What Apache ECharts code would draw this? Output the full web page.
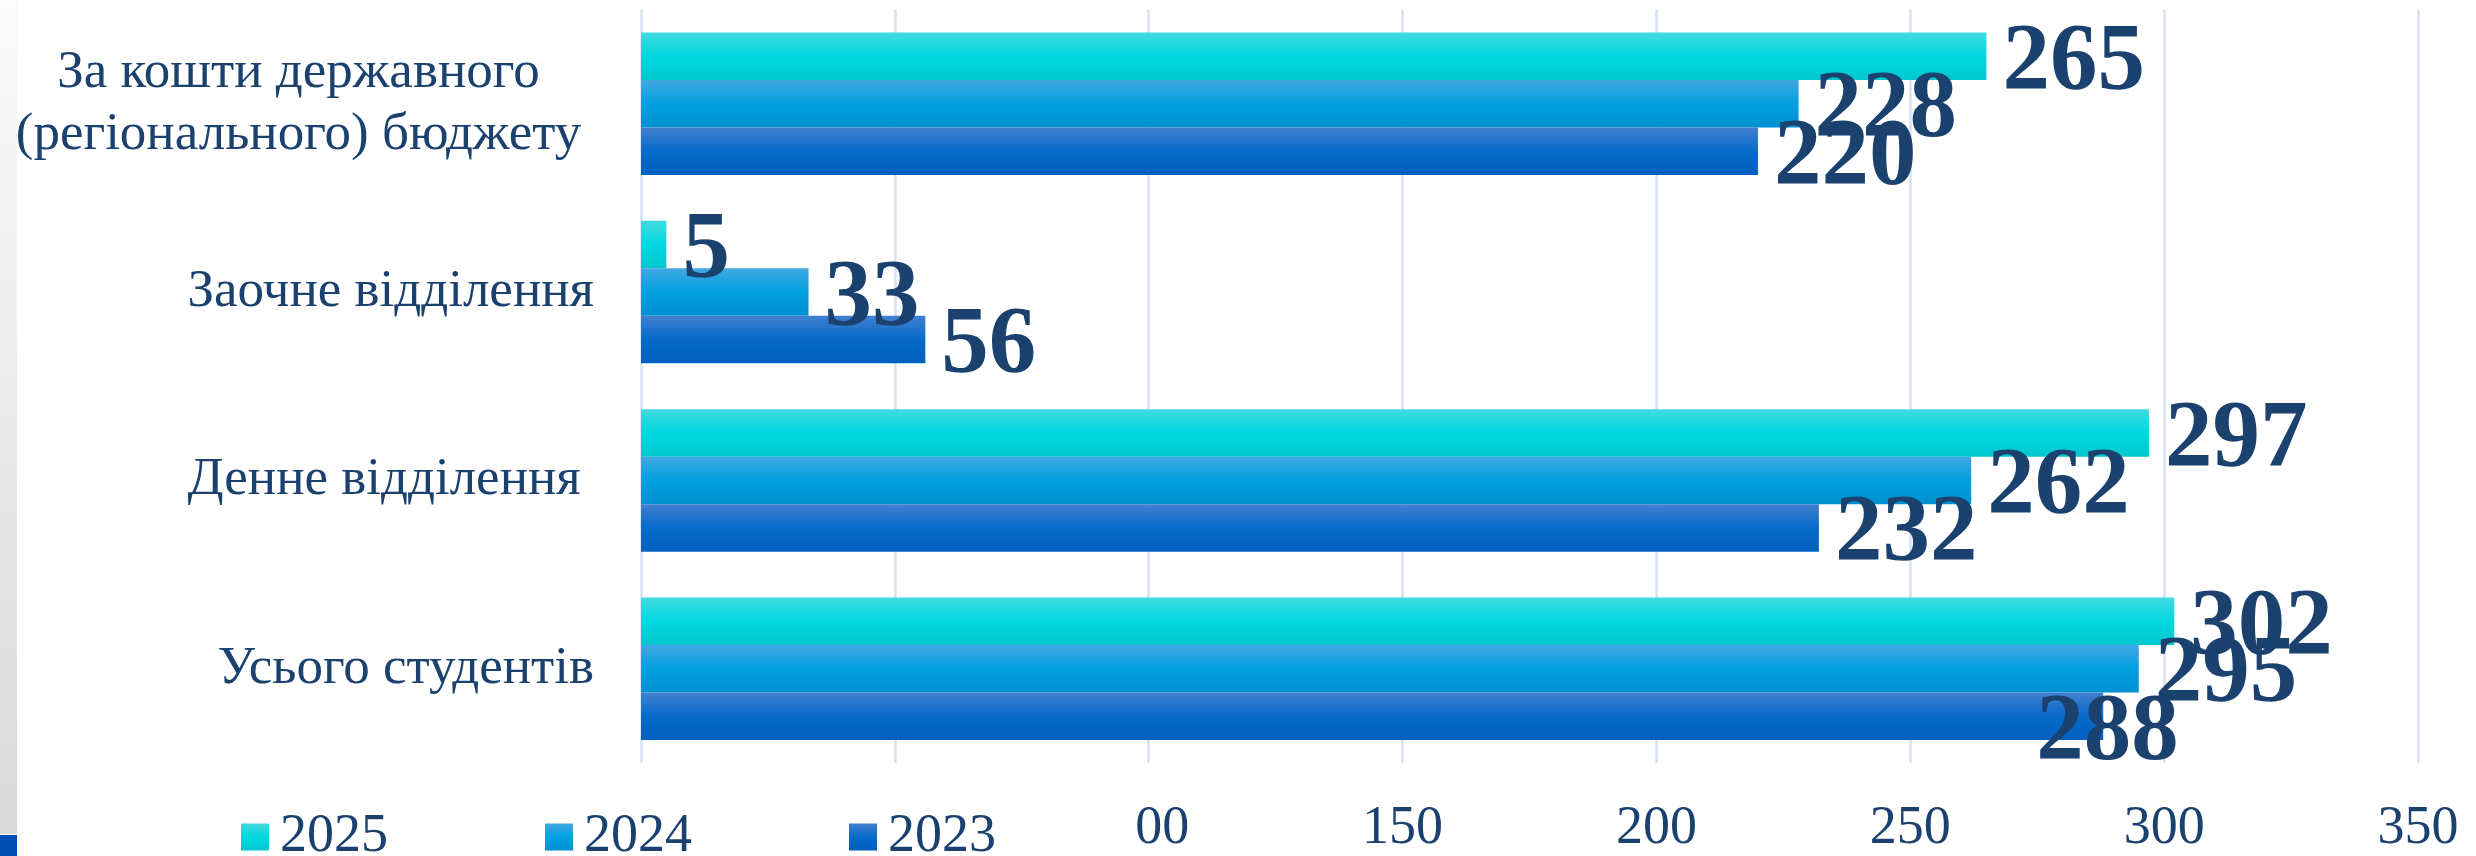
<!DOCTYPE html>
<html>
<head>
<meta charset="utf-8">
<script src="https://cdn.jsdelivr.net/npm/echarts@6/dist/echarts.min.js"></script>
<style>
html,body{margin:0;padding:0;background:#fff;}
#chart{width:2476px;height:856px;}
</style>
</head>
<body>
<div id="chart"></div>
<script>
// ---- data ----
const categories = ['За кошти державного\n(регіонального) бюджету', 'Заочне відділення', 'Денне відділення ', 'Усього студентів'];
const seriesNames = ['2025', '2024', '2023'];
const values2025 = [265, 5, 297, 302];
const values2024 = [228, 33, 262, 295];
const values2023 = [220, 56, 232, 288];
const xTickLabels = ['0', '50', '100', '150', '200', '250', '300', '350'];

// ---- styling ----
const FONT = "'Liberation Serif', 'Times New Roman', serif";
const NAVY = '#1b416f';
function grad(a, b, c) {
  return new echarts.graphic.LinearGradient(0, 0, 0, 1, [
    {offset: 0, color: a}, {offset: 0.5, color: b}, {offset: 1, color: c}
  ]);
}
const colors = [
  grad('#42d9e0', '#00d8e0', '#00c6cf'),
  grad('#42a8e2', '#00a0e0', '#0090d0'),
  grad('#4280d0', '#066ac8', '#0060be')
];
const seriesValues = [values2025, values2024, values2023];
// label nudge for one overlapping label (series index, data index -> offset)
const labelNudge = {'2-3': [-83, 18]};

const chart = echarts.init(document.getElementById('chart'));
const series = seriesNames.map((name, si) => ({
  name: name,
  type: 'bar',
  barGap: 0,
  barCategoryGap: '24.4%',
  itemStyle: {color: colors[si]},
  label: {
    show: true, position: 'right', distance: 16,
    offset: [0, 8],
    fontFamily: FONT, fontWeight: 'bold', fontSize: 95, color: NAVY
  },
  data: seriesValues[si].map((v, di) => {
    const n = labelNudge[si + '-' + di];
    return n ? {value: v, label: {offset: n}} : v;
  })
}));

chart.setOption({
  animation: false,
  backgroundColor: '#ffffff',
  grid: {left: 641, right: 58, top: 9.5, bottom: 93, containLabel: false},
  xAxis: {
    type: 'value', min: 0, max: 350, interval: 50,
    axisLine: {show: false}, axisTick: {show: false},
    splitLine: {show: true, lineStyle: {color: '#d6e3f4', width: 2.5}},
    axisLabel: {
      margin: 39, fontFamily: FONT, fontSize: 54, color: NAVY,
      formatter: (v) => xTickLabels[Math.round(v / 50)]
    }
  },
  yAxis: {
    type: 'category', inverse: true, data: categories,
    axisLine: {show: false}, axisTick: {show: false},
    axisLabel: {
      margin: 47, fontFamily: FONT, fontSize: 53, color: NAVY, lineHeight: 62,
      formatter: (s) => s.indexOf('\n') >= 0 ? s.split('\n').map(l => '{c|' + l + '}').join('\n') : s,
      rich: {c: {width: 591, align: 'center', fontFamily: FONT, fontSize: 53, color: NAVY, lineHeight: 62}}
    }
  },
  legend: {
    show: true, data: seriesNames, icon: 'rect',
    left: 241, top: 810, padding: 0,
    itemWidth: 28, itemHeight: 27, itemGap: 157,
    textStyle: {fontFamily: FONT, fontSize: 54, color: NAVY, padding: [0, 0, 0, 6]},
    z: 20
  },
  graphic: [
    {type: 'rect', z: 10, shape: {x: 17, y: 778, width: 1118, height: 78}, style: {fill: '#ffffff'}},
    {type: 'rect', z: 10, shape: {x: 0, y: 0, width: 17, height: 834},
      style: {fill: new echarts.graphic.LinearGradient(0, 0, 0, 1, [{offset: 0, color: '#fbfbfb'}, {offset: 1, color: '#d9d9d9'}])}},
    {type: 'rect', z: 10, shape: {x: 0, y: 835, width: 17, height: 21}, style: {fill: '#004fb4'}}
  ],
  series: series
});
</script>
</body>
</html>
